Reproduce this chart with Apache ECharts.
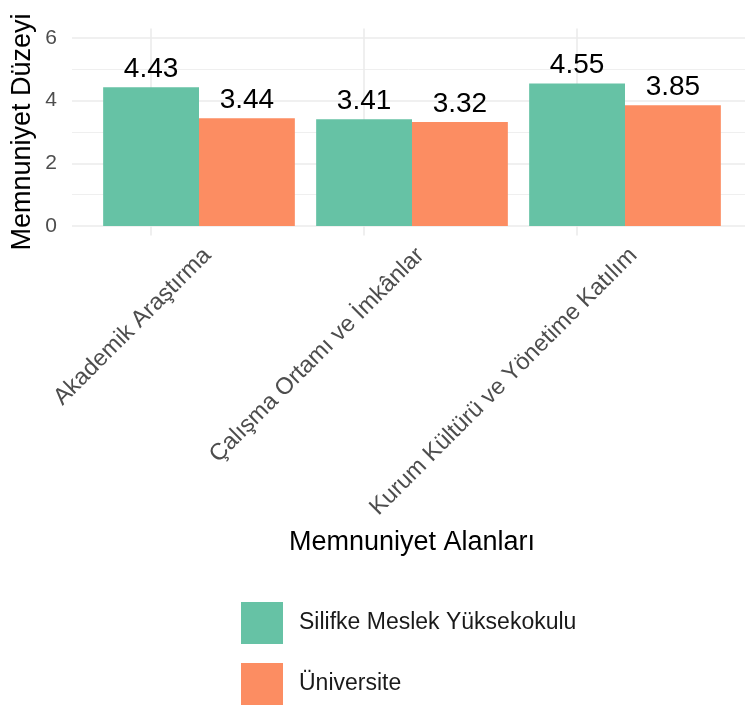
<!DOCTYPE html>
<html>
<head>
<meta charset="utf-8">
<script src="https://cdn.jsdelivr.net/npm/echarts@6/dist/echarts.min.js"></script>
<style>
html,body{margin:0;padding:0;background:#fff;}
#chart{width:745px;height:711px;}
</style>
</head>
<body>
<div id="chart"></div>
<script>
const categories = ['Akademik Araştırma', 'Çalışma Ortamı ve İmkânlar', 'Kurum Kültürü ve Yönetime Katılım'];
const seriesNames = ['Silifke Meslek Yüksekokulu', 'Üniversite'];
const smyoValues = [4.43, 3.41, 4.55];
const univValues = [3.44, 3.32, 3.85];
const colors = ['#66c2a5', '#fc8d62'];
const yTitle = 'Memnuniyet Düzeyi';
const xTitle = 'Memnuniyet Alanları';

const FONT = 'Liberation Sans, Arial, sans-serif';
const chart = echarts.init(document.getElementById('chart'));

const labelOpt = {
  show: true, position: 'top', distance: 4,
  fontSize: 28, color: '#000', fontFamily: FONT,
  formatter: p => p.value.toFixed(2)
};

chart.setOption({
  animation: false,
  backgroundColor: '#fff',
  grid: [
    {left: 72, right: 0, top: 38, height: 188},
    {left: 92.5, width: 639, top: 28.6, height: 206.8}
  ],
  xAxis: [
    {gridIndex: 0, type: 'value', min: 0, max: 1, show: false},
    {gridIndex: 1, type: 'category', data: categories,
     axisLine: {show: false}, axisTick: {show: false}, splitLine: {show: false},
     axisLabel: {interval: 0, rotate: 45, align: 'right', verticalAlign: 'top',
       fontSize: 23.5, color: '#4d4d4d', fontFamily: FONT, margin: 8}}
  ],
  yAxis: [
    {gridIndex: 0, type: 'value', min: 0, max: 6, interval: 2,
     axisLine: {show: false}, axisTick: {show: false},
     axisLabel: {fontSize: 21, color: '#4d4d4d', fontFamily: FONT, margin: 15},
     splitLine: {show: true, lineStyle: {color: '#ebebeb', width: 1.6}},
     minorTick: {show: false, splitNumber: 2},
     minorSplitLine: {show: true, lineStyle: {color: '#ebebeb', width: 0.8}}},
    {gridIndex: 1, type: 'value', min: -0.3, max: 6.3, show: false, splitLine: {show: false}}
  ],
  legend: {
    orient: 'vertical', left: 241, top: 602, padding: 0,
    itemWidth: 42, itemHeight: 42, itemGap: 19, icon: 'rect',
    data: seriesNames,
    textStyle: {fontSize: 23, color: '#1a1a1a', fontFamily: FONT, padding: [0, 0, 0, 11]}
  },
  graphic: [
    {type: 'text', x: 412, y: 543, style: {text: xTitle, fontSize: 27, fill: '#000', fontFamily: FONT, align: 'center', verticalAlign: 'middle'}},
    {type: 'text', x: 23, y: 132, rotation: Math.PI / 2, style: {text: yTitle, fontSize: 27, fill: '#000', fontFamily: FONT, align: 'center', verticalAlign: 'middle'}}
  ],
  series: [
    {name: seriesNames[0], type: 'bar', xAxisIndex: 1, yAxisIndex: 1, data: smyoValues,
     barWidth: '45%', barGap: '0%', z: 3, itemStyle: {color: colors[0]}, label: labelOpt,
     markLine: {silent: true, symbol: 'none', z: 1, label: {show: false},
       lineStyle: {color: '#ebebeb', width: 1.6, type: 'solid'},
       data: categories.map(c => ({xAxis: c}))}},
    {name: seriesNames[1], type: 'bar', xAxisIndex: 1, yAxisIndex: 1, data: univValues,
     barWidth: '45%', barGap: '0%', z: 3, itemStyle: {color: colors[1]}, label: labelOpt}
  ]
});
</script>
</body>
</html>
